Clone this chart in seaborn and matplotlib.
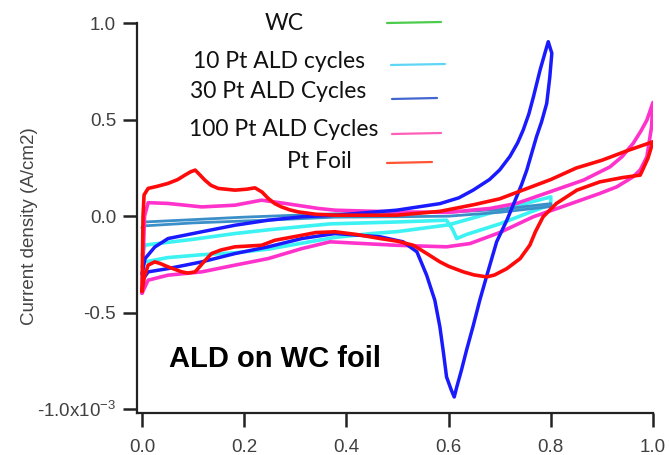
import matplotlib
matplotlib.use("Agg")
import matplotlib.pyplot as plt
from matplotlib.lines import Line2D
import seaborn as sns
import pandas as pd

# ---------------- data ----------------
series_names = ["WC", "10 Pt ALD cycles", "30 Pt ALD Cycles", "100 Pt ALD Cycles", "Pt Foil"]

# WC (steel-blue thin loop near zero)
wc_v = [0.0, 0.006, 0.1, 0.2, 0.3, 0.378, 0.5, 0.6, 0.7, 0.8,
        0.8, 0.7, 0.6, 0.5, 0.378, 0.25, 0.1, 0.006, 0.0]
wc_i = [-0.06, -0.03, -0.018, -0.005, 0.005, 0.012, 0.015, 0.02, 0.035, 0.065,
        0.05, 0.02, 0.0, -0.003, -0.005, -0.02, -0.035, -0.05, -0.06]

# 10 Pt ALD cycles (cyan)
pt10_v = [0.0, 0.006, 0.05, 0.117, 0.182, 0.25, 0.313, 0.378, 0.45, 0.5, 0.6, 0.7, 0.8,
          0.8, 0.759, 0.7, 0.661, 0.635, 0.616, 0.608, 0.596, 0.5, 0.368, 0.25, 0.182, 0.1, 0.006, 0.0]
pt10_i = [-0.26, -0.237, -0.215, -0.2, -0.19, -0.17, -0.14, -0.11, -0.09, -0.08, -0.045, 0.03, 0.10,
          0.06, 0.02, -0.04, -0.073, -0.095, -0.116, -0.07, -0.021, -0.03, -0.04, -0.07, -0.09, -0.12, -0.15, -0.2]

# 30 Pt ALD Cycles (blue)
pt30_v = [0.0, 0.006, 0.025, 0.051, 0.117, 0.182, 0.247, 0.313, 0.378, 0.498, 0.583, 0.62, 0.648,
          0.68, 0.70, 0.72, 0.735, 0.746, 0.757, 0.766, 0.779, 0.79, 0.795,
          0.802, 0.798, 0.792, 0.782, 0.772, 0.763, 0.753, 0.743, 0.733, 0.714, 0.694, 0.675,
          0.661, 0.648, 0.635, 0.625, 0.616, 0.611, 0.605, 0.596, 0.59, 0.583, 0.573, 0.557,
          0.538, 0.511, 0.466, 0.378, 0.313, 0.247, 0.182, 0.117, 0.051, 0.012, 0.003]
pt30_i = [-0.30, -0.22, -0.16, -0.116, -0.081, -0.047, -0.021, -0.003, 0.005, 0.031, 0.065, 0.095, 0.135,
          0.19, 0.24, 0.31, 0.38, 0.447, 0.53, 0.619, 0.758, 0.86, 0.905,
          0.845, 0.72, 0.585, 0.49, 0.412, 0.33, 0.239, 0.165, 0.10, -0.021, -0.133, -0.306,
          -0.436, -0.57, -0.696, -0.80, -0.886, -0.938, -0.90, -0.834, -0.71, -0.575, -0.436, -0.306,
          -0.185, -0.133, -0.107, -0.09, -0.116, -0.159, -0.194, -0.237, -0.272, -0.289, -0.323]

# 100 Pt ALD Cycles (magenta)
pt100_v = [0.0, 0.005, 0.012, 0.051, 0.117, 0.182, 0.234, 0.28, 0.345, 0.378, 0.498, 0.6, 0.681,
           0.733, 0.798, 0.864, 0.916, 0.94, 0.961, 0.976, 0.988, 1.0,
           0.997, 0.988, 0.975, 0.961, 0.929, 0.896, 0.831, 0.766, 0.70, 0.642, 0.596, 0.498, 0.368,
           0.313, 0.247, 0.182, 0.117, 0.051, 0.012, 0.0]
pt100_i = [-0.40, 0.0, 0.07, 0.066, 0.048, 0.057, 0.083, 0.066, 0.04, 0.031, 0.022, 0.02, 0.04,
           0.066, 0.126, 0.187, 0.256, 0.31, 0.377, 0.44, 0.498, 0.59,
           0.46, 0.308, 0.24, 0.204, 0.152, 0.118, 0.057, -0.003, -0.085, -0.142, -0.159, -0.151, -0.133,
           -0.168, -0.22, -0.254, -0.289, -0.306, -0.332, -0.40]

# Pt Foil (red)
ptf_v = [0.0, 0.002, 0.004, 0.012, 0.03, 0.051, 0.07, 0.084, 0.095, 0.104, 0.113, 0.123, 0.135,
         0.149, 0.182, 0.205, 0.221, 0.235, 0.247, 0.26, 0.273, 0.29, 0.306, 0.34,
         0.378, 0.498, 0.583, 0.65, 0.70, 0.75, 0.80, 0.85, 0.90, 0.95, 1.0,
         0.99, 0.975, 0.94, 0.896, 0.851, 0.811, 0.785, 0.77, 0.759, 0.74, 0.714, 0.69, 0.675,
         0.65, 0.629, 0.6, 0.583, 0.555, 0.531, 0.5, 0.466, 0.42, 0.378, 0.34, 0.313, 0.26,
         0.234, 0.182, 0.155, 0.136, 0.12, 0.104, 0.09, 0.078, 0.051, 0.035, 0.025, 0.012,
         0.005, 0.0]
ptf_i = [-0.39, 0.0, 0.11, 0.144, 0.155, 0.17, 0.19, 0.213, 0.23, 0.239, 0.215, 0.187, 0.16,
         0.144, 0.135, 0.14, 0.147, 0.125, 0.092, 0.065, 0.048, 0.032, 0.022, 0.01,
         0.005, 0.005, 0.025, 0.06, 0.09, 0.14, 0.19, 0.25, 0.29, 0.34, 0.386,
         0.30, 0.213, 0.20, 0.178, 0.135, 0.066, -0.003, -0.08, -0.15, -0.22, -0.272, -0.305, -0.315,
         -0.305, -0.289, -0.26, -0.237, -0.19, -0.151, -0.13, -0.116, -0.095, -0.081, -0.085, -0.099, -0.125,
         -0.151, -0.159, -0.175, -0.194, -0.24, -0.289, -0.295, -0.289, -0.263, -0.245, -0.237, -0.254,
         -0.31, -0.39]

x_ticks = [0.0, 0.2, 0.4, 0.6, 0.8, 1.0]
x_tick_labels = ["0.0", "0.2", "0.4", "0.6", "0.8", "1.0"]
y_ticks = [1.0, 0.5, 0.0, -0.5, -1.0]
y_tick_labels = ["1.0", "0.5", "0.0", "-0.5", "-1.0x10$^{-3}$"]

# ---------------- styling ----------------
curve_colors = {"WC": "#3a8fc8", "10 Pt ALD cycles": "#3cf2f2", "30 Pt ALD Cycles": "#1a1aff",
                "100 Pt ALD Cycles": "#ff33cc", "Pt Foil": "#ff0a0a"}
curve_widths = {"WC": 2.0, "10 Pt ALD cycles": 2.6, "30 Pt ALD Cycles": 2.5,
                "100 Pt ALD Cycles": 2.6, "Pt Foil": 2.6}
legend_colors = {"WC": "#4ccc4c", "10 Pt ALD cycles": "#5fd6f5", "30 Pt ALD Cycles": "#4466d0",
                 "100 Pt ALD Cycles": "#ff5fb8", "Pt Foil": "#ff5533"}
draw_order = ["10 Pt ALD cycles", "WC", "100 Pt ALD Cycles", "30 Pt ALD Cycles", "Pt Foil"]

sns.set_theme(style="white")
plt.rcParams["font.family"] = ["Liberation Sans", "DejaVu Sans"]
plt.rcParams["mathtext.default"] = "regular"
plt.rcParams["xtick.bottom"] = True
plt.rcParams["ytick.left"] = True

frames = []
for name, v, i in [("WC", wc_v, wc_i), ("10 Pt ALD cycles", pt10_v, pt10_i),
                   ("30 Pt ALD Cycles", pt30_v, pt30_i), ("100 Pt ALD Cycles", pt100_v, pt100_i),
                   ("Pt Foil", ptf_v, ptf_i)]:
    frames.append(pd.DataFrame({"series": name, "potential": v, "current": i}))
df = pd.concat(frames, ignore_index=True)

fig = plt.figure(figsize=(6.69, 4.55), dpi=100)
ax = fig.add_axes([137 / 669, 1 - 413 / 455, (653 - 137) / 669, (413 - 23) / 455])

for name in draw_order:
    sub = df[df["series"] == name]
    sns.lineplot(data=sub, x="potential", y="current", sort=False, estimator=None,
                 color=curve_colors[name], linewidth=curve_widths[name], ax=ax, legend=False)

ax.set_xlim(-0.0098, 1.0)
ax.set_ylim(-1.021, 1.002)
ax.set_xticks(x_ticks)
ax.set_xticklabels(x_tick_labels)
ax.set_yticks(y_ticks)
ax.set_yticklabels(y_tick_labels)
for s in ["top", "right"]:
    ax.spines[s].set_visible(False)
for s in ["left", "bottom"]:
    ax.spines[s].set_color("#222222")
    ax.spines[s].set_linewidth(1.6)
ax.tick_params(axis="both", which="major", direction="out", length=10, width=1.8,
               color="#222222", labelsize=13.5, labelcolor="#404040", bottom=True, left=True)
ax.tick_params(axis="y", pad=5)
ax.tick_params(axis="x", pad=8.5)
ax.set_xlabel("")
ax.set_ylabel("Current density (A/cm2)", fontsize=13.5, color="#444444")
ax.yaxis.set_label_coords(-0.192, 0.478)

ax.text(0.053, -0.742, "ALD on WC foil", fontsize=21, fontweight="bold", color="black",
        ha="left", va="center")

# manual legend (text + sample line), positions in figure pixels
leg_text_pos = {"WC": (265, 23), "10 Pt ALD cycles": (193, 62), "30 Pt ALD Cycles": (190, 92),
                "100 Pt ALD Cycles": (189, 130), "Pt Foil": (287, 161)}
leg_line_pos = {"WC": (387, 441, 23), "10 Pt ALD cycles": (391, 445, 65),
                "30 Pt ALD Cycles": (392, 437, 99), "100 Pt ALD Cycles": (392, 441, 134),
                "Pt Foil": (387, 432, 163)}
for name in series_names:
    tx, ty = leg_text_pos[name]
    fig.text(tx / 669, 1 - ty / 455, name, fontsize=16.5, family=["Lato", "DejaVu Sans"],
             color="#111111", ha="left", va="center")
    x0, x1, ly = leg_line_pos[name]
    fig.add_artist(Line2D([x0 / 669, x1 / 669], [1 - ly / 455, 1 - (ly - 1) / 455],
                          transform=fig.transFigure, color=legend_colors[name], linewidth=1.6))

fig.savefig("out.png", dpi=100)
